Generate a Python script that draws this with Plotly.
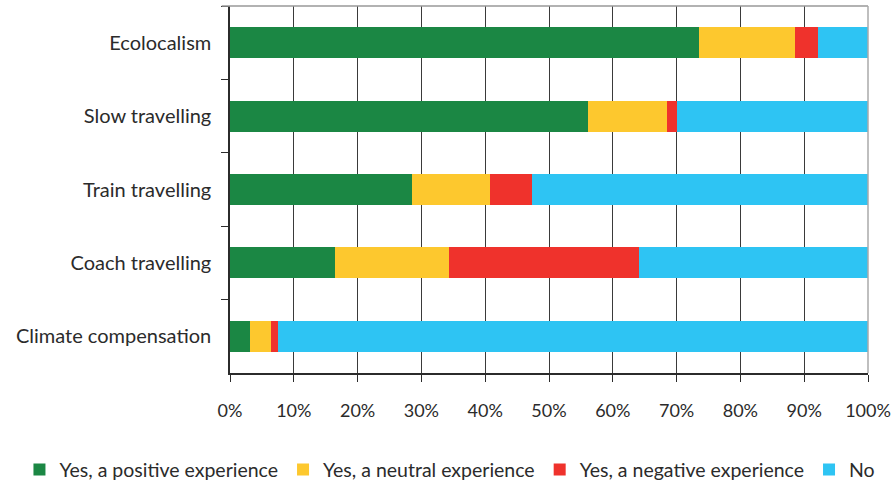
import plotly.graph_objects as go

# Survey results: share of respondents per travel practice (percent)
categories = ["Ecolocalism", "Slow travelling", "Train travelling", "Coach travelling", "Climate compensation"]
positive = [73.5, 56.1, 28.6, 16.5, 3.2]
neutral = [15.0, 12.4, 12.2, 17.9, 3.3]
negative = [3.6, 1.5, 6.5, 29.7, 1.1]
no = [7.9, 30.0, 52.7, 35.9, 92.4]

series = [
    ("Yes, a positive experience", positive, "#1b8744"),
    ("Yes, a neutral experience", neutral, "#fdc82e"),
    ("Yes, a negative experience", negative, "#ef322c"),
    ("No", no, "#2ec4f3"),
]

tick_vals = [0, 10, 20, 30, 40, 50, 60, 70, 80, 90, 100]
tick_text = ["0%", "10%", "20%", "30%", "40%", "50%", "60%", "70%", "80%", "90%", "100%"]

font_family = "Lato, 'Open Sans', sans-serif"

fig = go.Figure()
for name, vals, color in series:
    fig.add_trace(go.Bar(
        y=categories, x=vals, name=name, orientation="h",
        marker=dict(color=color, line=dict(width=0)),
        width=0.42,
    ))

fig.update_layout(
    barmode="stack",
    width=895, height=484,
    margin=dict(l=230, r=27, t=6, b=111, autoexpand=False),
    paper_bgcolor="white", plot_bgcolor="white",
    font=dict(family=font_family, size=18, color="#2b2b2b"),
    showlegend=True,
    legend=dict(
        orientation="h", xref="paper", yref="paper",
        x=-0.33, xanchor="left", y=-0.264, yanchor="middle",
        font=dict(size=19.5, color="#2b2b2b"),
        traceorder="normal", itemsizing="constant",
        itemwidth=30, bgcolor="rgba(0,0,0,0)",
    ),
    xaxis=dict(
        range=[0, 100], tickvals=tick_vals, ticktext=tick_text,
        showgrid=True, gridcolor="#3a3a3a", gridwidth=1,
        showline=True, linecolor="#2b2b2b", linewidth=1.5,
        ticks="outside", ticklen=7, tickcolor="#2b2b2b",
        ticklabelstandoff=14, zeroline=False, fixedrange=True,
        tickfont=dict(size=18),
    ),
    yaxis=dict(
        autorange="reversed", showgrid=False,
        showline=True, linecolor="#2b2b2b", linewidth=1.5,
        ticks="outside", ticklen=7, tickcolor="#2b2b2b",
        tickson="boundaries", ticklabelstandoff=13,
        fixedrange=True, tickfont=dict(size=20),
    ),
)

# Light frame along the top and right edges of the plotting area
fig.add_shape(type="line", xref="paper", yref="paper", x0=-0.013, x1=1, y0=1, y1=1,
              line=dict(color="#999999", width=1.5), layer="above")
fig.add_shape(type="line", xref="paper", yref="paper", x0=1, x1=1, y0=0, y1=1,
              line=dict(color="#aaaaaa", width=1.5), layer="above")

fig.write_html("out.html")
